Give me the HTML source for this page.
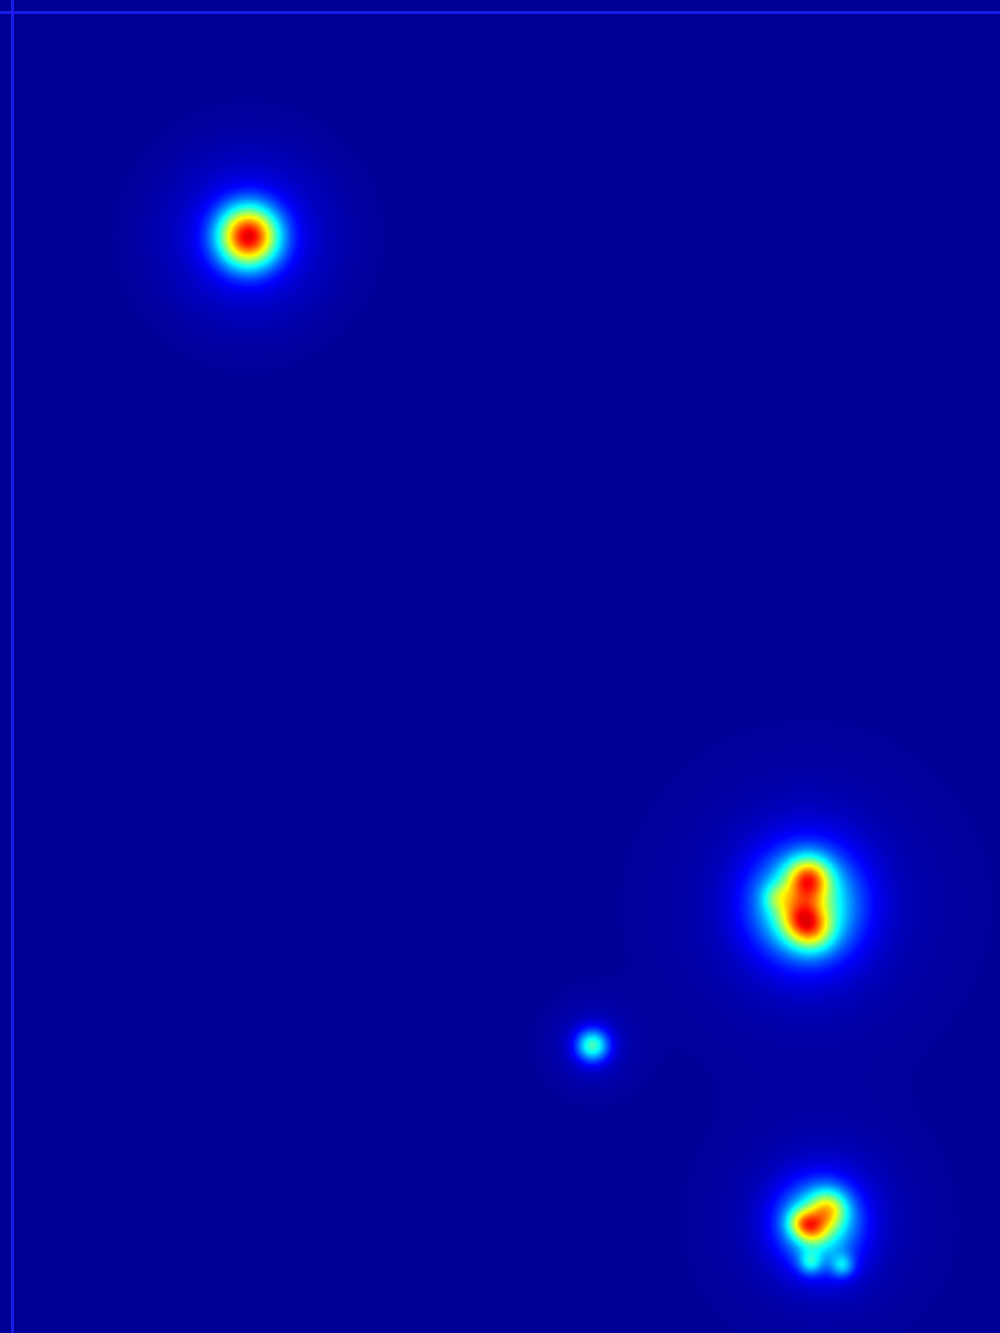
<!DOCTYPE html>
<html><head><meta charset="utf-8"><style>
html,body{margin:0;padding:0;background:#00008c;}
#wrap{position:relative;width:1000px;height:1333px;overflow:hidden;}
canvas{position:absolute;left:0;top:0;}
.ln{position:absolute;background:#2020ff;opacity:.8;}
</style></head><body>
<div id="wrap">
<canvas id="c" width="1000" height="1333"></canvas>
<div class="ln" style="left:0;top:11px;width:1000px;height:3px"></div>
<div class="ln" style="left:11px;top:0;width:3px;height:1333px"></div>
</div>
<script>
const pointX = [248, 806, 808, 800, 812, 776, 592, 820, 828, 812, 800, 810, 842];
const pointY = [236, 905, 878, 918, 930, 897, 1045, 1222, 1208, 1228, 1222, 1262, 1265];
const pointW = [0.88, 0.38, 0.5, 0.3, 0.3, 0.15, 0.42, 0.34, 0.33, 0.3, 0.25, 0.22, 0.22];
const pointS = [21, 34, 15, 15, 15, 10, 11, 26, 13, 11, 10, 8, 8];
const baseLevel = 0.02;

function jet(t){
  const c=v=>Math.max(0,Math.min(1,v));
  return [c(1.5-Math.abs(4*t-3))*255, c(1.5-Math.abs(4*t-2))*255, c(1.5-Math.abs(4*t-1))*255];
}
const cv=document.getElementById('c'), ctx=cv.getContext('2d');
const W=1000,H=1333, img=ctx.createImageData(W,H), d=img.data;
for(let y=0;y<H;y++){for(let x=0;x<W;x++){
  let v=baseLevel;
  for(let i=0;i<pointX.length;i++){
    const dx=x-pointX[i], dy=y-pointY[i], r2=dx*dx+dy*dy, s=pointS[i];
    v+=pointW[i]*(0.88*Math.exp(-r2/(2*s*s))+0.12*Math.exp(-r2/(2*7*s*s)));
  }
  v=Math.min(v,0.9);
  const c=jet(v), k=(y*W+x)*4;
  d[k]=c[0];d[k+1]=c[1];d[k+2]=c[2];d[k+3]=255;
}}
ctx.putImageData(img,0,0);
</script>
</body></html>
